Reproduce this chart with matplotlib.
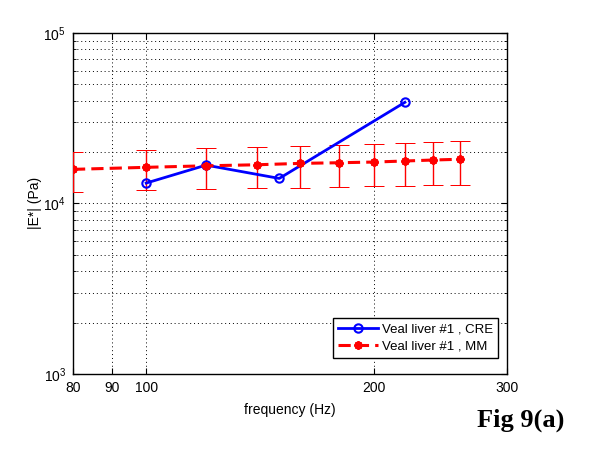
import matplotlib
matplotlib.use("Agg")
import matplotlib.pyplot as plt
import numpy as np
from matplotlib.path import Path
from matplotlib.ticker import FixedLocator, FixedFormatter, LogLocator, NullFormatter

plt.rcParams['font.family'] = ['Liberation Sans', 'DejaVu Sans']
plt.rcParams['mathtext.fontset'] = 'custom'
plt.rcParams['mathtext.rm'] = 'Liberation Sans'
plt.rcParams['mathtext.it'] = 'Liberation Sans:italic'

# Data
cre_freq = [100, 120, 150, 220]
cre_mod = [13150, 16750, 14000, 39100]

mm_freq = [80, 100, 120, 140, 160, 180, 200, 220, 240, 260]
mm_mod = [15820, 16260, 16600, 16830, 17150, 17300, 17460, 17710, 17950, 18130]
mm_low = [11600, 11910, 12080, 12240, 12240, 12410, 12580, 12580, 12750, 12750]
mm_high = [19970, 20440, 20990, 21370, 21580, 21880, 22160, 22460, 22770, 23070]

x_ticks = [80, 90, 100, 200, 300]
x_ticklabels = ['80', '90', '100', '200', '300']

fig = plt.figure(figsize=(5.9, 4.5), dpi=100)
ax = fig.add_axes([0.1237, 0.1689, 0.7351, 0.7584])

ax.set_xscale('log')
ax.set_yscale('log')
ax.set_xlim(80, 300)
ax.set_ylim(1e3, 1e5)

mm_mod_a = np.array(mm_mod)
yerr = np.vstack([mm_mod_a - np.array(mm_low), np.array(mm_high) - mm_mod_a])

ax.plot(cre_freq, cre_mod, color='#0000ff', lw=2, marker='o', ms=6,
        mfc='none', mec='#0000ff', mew=1.5, label='Veal liver #1 , CRE', zorder=4)
eb = ax.errorbar(mm_freq, mm_mod, yerr=yerr, fmt='none', ecolor='#ff0000',
                 elinewidth=1, capsize=7.5, capthick=0.7, zorder=3)
clip = Path.unit_rectangle()
for cap in eb[1]:
    cap.set_clip_path(clip, ax.transAxes)
    cap.set_snap(True)
ax.plot(mm_freq, mm_mod, color='#ff0000', lw=2.2, dashes=(4, 2),
        marker=(8, 2, 0), ms=6, mec='#ff0000', mew=1.6,
        label='Veal liver #1 , MM', zorder=5)

ax.xaxis.set_major_locator(FixedLocator(x_ticks))
ax.xaxis.set_major_formatter(FixedFormatter(x_ticklabels))
ax.xaxis.set_minor_locator(FixedLocator([]))
ax.xaxis.set_minor_formatter(NullFormatter())
ax.yaxis.set_major_locator(LogLocator(base=10, numticks=10))
ax.yaxis.set_minor_locator(LogLocator(base=10, subs=np.arange(2, 10), numticks=20))
ax.yaxis.set_minor_formatter(NullFormatter())

ax.tick_params(which='both', direction='in', top=True, right=True, labelsize=10, colors='k')
ax.tick_params(which='major', length=4, pad=5)
ax.tick_params(which='minor', length=2)

ax.grid(True, which='major', axis='both', color='k', linestyle=(0, (1, 3)), lw=0.7)
ax.grid(True, which='minor', axis='y', color='k', linestyle=(0, (1, 3)), lw=0.7)

for s in ax.spines.values():
    s.set_linewidth(1)
    s.set_color('k')

ax.set_xlabel('frequency (Hz)', fontsize=10, labelpad=6)
ax.set_ylabel('|E*| (Pa)', fontsize=10, labelpad=1)

leg = ax.legend(loc='lower right', bbox_to_anchor=(0.98, 0.047), borderaxespad=0,
                fontsize=9.5, fancybox=False, framealpha=1, edgecolor='k',
                handlelength=3, handletextpad=0.3, borderpad=0.4, labelspacing=0.35)
leg.get_frame().set_linewidth(1)

fig.text(0.8825, 0.065, 'Fig 9(a)', fontsize=19, fontweight='bold',
         family=['Liberation Serif', 'DejaVu Serif'], ha='center', va='center')

fig.savefig('out.png', dpi=100, facecolor='white')
